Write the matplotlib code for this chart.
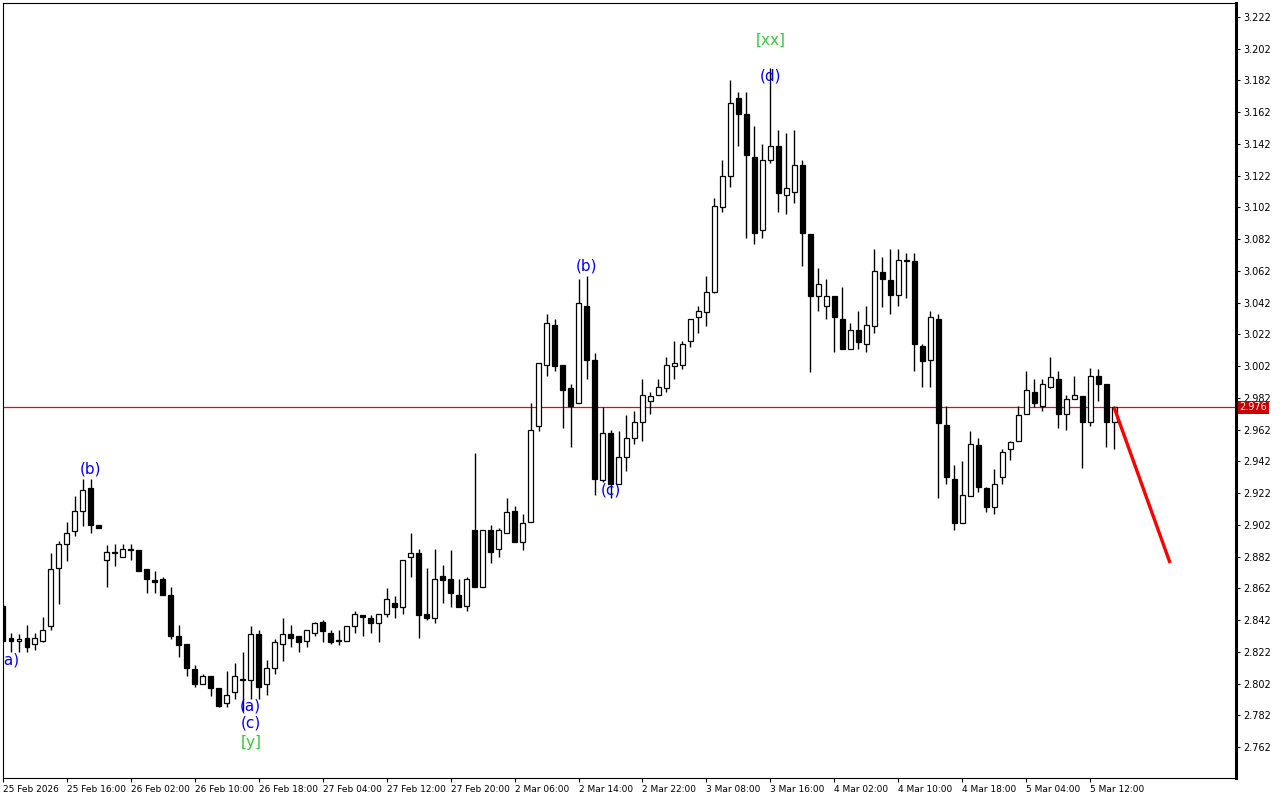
import matplotlib
matplotlib.use("Agg")
import matplotlib.pyplot as plt
import numpy as np

# OHLC, hourly candles
opens = [2.851, 2.831, 2.829, 2.831, 2.827, 2.829, 2.838, 2.875, 2.890, 2.898,
         2.911, 2.925, 2.902, 2.880, 2.884, 2.882, 2.887, 2.886, 2.874, 2.867,
         2.868, 2.858, 2.832, 2.827, 2.811, 2.802, 2.807, 2.799, 2.790, 2.797,
         2.805, 2.804, 2.833, 2.802, 2.812, 2.827, 2.833, 2.832, 2.829, 2.834,
         2.841, 2.834, 2.829, 2.829, 2.838, 2.845, 2.843, 2.840, 2.846, 2.853,
         2.850, 2.882, 2.884, 2.846, 2.843, 2.870, 2.868, 2.858, 2.851, 2.899,
         2.863, 2.899, 2.887, 2.897, 2.911, 2.891, 2.904, 2.964, 3.003, 3.028,
         3.003, 2.988, 2.979, 3.040, 3.006, 2.930, 2.960, 2.928, 2.945, 2.957,
         2.967, 2.980, 2.984, 2.988, 3.002, 3.003, 3.018, 3.033, 3.036, 3.049,
         3.102, 3.122, 3.171, 3.161, 3.134, 3.088, 3.132, 3.141, 3.110, 3.112,
         3.129, 3.085, 3.046, 3.040, 3.046, 3.032, 3.013, 3.025, 3.016, 3.027,
         3.061, 3.056, 3.047, 3.069, 3.068, 3.015, 3.006, 3.032, 2.965, 2.931,
         2.903, 2.920, 2.952, 2.925, 2.913, 2.932, 2.950, 2.955, 2.972, 2.986,
         2.977, 2.989, 2.994, 2.972, 2.981, 2.983, 2.967, 2.996, 2.991, 2.967]
highs = [2.852, 2.834, 2.833, 2.839, 2.834, 2.844, 2.884, 2.892, 2.904, 2.920,
         2.931, 2.931, 2.902, 2.889, 2.890, 2.890, 2.890, 2.886, 2.874, 2.873,
         2.869, 2.863, 2.839, 2.827, 2.814, 2.808, 2.807, 2.799, 2.810, 2.815,
         2.822, 2.838, 2.836, 2.817, 2.830, 2.843, 2.839, 2.832, 2.836, 2.841,
         2.842, 2.836, 2.836, 2.838, 2.848, 2.845, 2.845, 2.846, 2.862, 2.857,
         2.880, 2.897, 2.887, 2.875, 2.887, 2.877, 2.886, 2.868, 2.869, 2.947,
         2.899, 2.902, 2.900, 2.919, 2.914, 2.909, 2.979, 3.004, 3.035, 3.032,
         3.003, 2.991, 3.057, 3.059, 3.010, 2.976, 2.962, 2.961, 2.971, 2.974,
         2.994, 2.986, 2.994, 3.008, 3.018, 3.018, 3.032, 3.040, 3.059, 3.108,
         3.132, 3.182, 3.175, 3.175, 3.153, 3.142, 3.190, 3.151, 3.149, 3.151,
         3.132, 3.085, 3.064, 3.057, 3.046, 3.052, 3.029, 3.037, 3.040, 3.076,
         3.071, 3.076, 3.076, 3.073, 3.073, 3.016, 3.037, 3.035, 2.977, 2.940,
         2.942, 2.961, 2.957, 2.926, 2.937, 2.950, 2.955, 2.977, 2.999, 2.994,
         2.994, 3.008, 2.999, 2.984, 2.996, 2.983, 3.001, 3.000, 2.991, 2.977]
lows = [2.828, 2.822, 2.822, 2.822, 2.823, 2.828, 2.836, 2.852, 2.879, 2.895,
        2.901, 2.897, 2.900, 2.863, 2.876, 2.882, 2.880, 2.873, 2.859, 2.859,
        2.858, 2.830, 2.819, 2.807, 2.800, 2.802, 2.794, 2.787, 2.787, 2.792,
        2.785, 2.792, 2.792, 2.795, 2.808, 2.816, 2.825, 2.822, 2.825, 2.832,
        2.828, 2.827, 2.826, 2.829, 2.834, 2.832, 2.834, 2.828, 2.844, 2.843,
        2.846, 2.869, 2.831, 2.842, 2.840, 2.853, 2.850, 2.850, 2.848, 2.863,
        2.863, 2.878, 2.882, 2.897, 2.891, 2.886, 2.904, 2.961, 2.996, 2.999,
        2.963, 2.951, 2.979, 2.994, 2.921, 2.929, 2.919, 2.928, 2.936, 2.953,
        2.955, 2.972, 2.984, 2.986, 2.994, 3.000, 3.014, 3.023, 3.027, 3.048,
        3.099, 3.115, 3.141, 3.083, 3.079, 3.083, 3.130, 3.099, 3.098, 3.105,
        3.065, 2.998, 3.037, 3.032, 3.011, 3.013, 3.013, 3.013, 3.011, 3.023,
        3.039, 3.035, 3.040, 3.045, 2.999, 2.989, 2.989, 2.919, 2.928, 2.899,
        2.903, 2.920, 2.923, 2.910, 2.909, 2.928, 2.943, 2.955, 2.972, 2.976,
        2.974, 2.988, 2.963, 2.962, 2.981, 2.938, 2.964, 2.980, 2.951, 2.950]
closes = [2.829, 2.829, 2.830, 2.825, 2.831, 2.836, 2.874, 2.890, 2.897, 2.911,
          2.924, 2.902, 2.900, 2.885, 2.885, 2.887, 2.886, 2.873, 2.868, 2.866,
          2.858, 2.832, 2.826, 2.812, 2.802, 2.807, 2.799, 2.788, 2.795, 2.807,
          2.804, 2.833, 2.800, 2.812, 2.828, 2.833, 2.831, 2.828, 2.836, 2.840,
          2.835, 2.828, 2.829, 2.838, 2.846, 2.844, 2.840, 2.846, 2.855, 2.850,
          2.880, 2.884, 2.845, 2.843, 2.868, 2.867, 2.859, 2.850, 2.868, 2.863,
          2.899, 2.885, 2.899, 2.910, 2.891, 2.903, 2.962, 3.004, 3.029, 3.002,
          2.987, 2.977, 3.042, 3.006, 2.931, 2.960, 2.928, 2.945, 2.957, 2.967,
          2.984, 2.983, 2.989, 3.003, 3.004, 3.016, 3.032, 3.037, 3.049, 3.103,
          3.122, 3.168, 3.161, 3.135, 3.086, 3.132, 3.141, 3.111, 3.114, 3.129,
          3.086, 3.046, 3.054, 3.046, 3.033, 3.013, 3.025, 3.017, 3.028, 3.062,
          3.057, 3.047, 3.069, 3.068, 3.016, 3.005, 3.033, 2.966, 2.932, 2.903,
          2.921, 2.953, 2.926, 2.913, 2.928, 2.948, 2.954, 2.971, 2.987, 2.979,
          2.991, 2.995, 2.972, 2.981, 2.984, 2.967, 2.996, 2.991, 2.967, 2.976]

xlabels = ["25 Feb 2026", "25 Feb 16:00", "26 Feb 02:00", "26 Feb 10:00",
           "26 Feb 18:00", "27 Feb 04:00", "27 Feb 12:00", "27 Feb 20:00",
           "2 Mar 06:00", "2 Mar 14:00", "2 Mar 22:00", "3 Mar 08:00",
           "3 Mar 16:00", "4 Mar 02:00", "4 Mar 10:00", "4 Mar 18:00",
           "5 Mar 04:00", "5 Mar 12:00"]
yticks = [2.762 + 0.02 * k for k in range(24)]

# wave labels: text, candle index, price, colour
waves = [("(a)", 0.8, 2.817, "blue"), ("(b)", 11, 2.937, "blue"),
         ("(a)", 31, 2.788, "blue"), ("(c)", 31, 2.777, "blue"),
         ("[y]", 31, 2.765, "limegreen"), ("(b)", 73, 3.065, "blue"),
         ("(c)", 76, 2.924, "blue"), ("(d)", 96, 3.185, "blue"),
         ("[xx]", 96, 3.2075, "limegreen")]

last_price = 2.976
forecast_x = [139, 146]
forecast_y = [2.976, 2.878]

o = np.array(opens); h = np.array(highs); l = np.array(lows); c = np.array(closes)
idx = np.arange(len(o))

fig = plt.figure(figsize=(12.8, 8), dpi=100)
ax = fig.add_axes([3/1280, 22/800, 1233/1280, 775/800])

ax.vlines(idx, l, h, color="black", linewidth=1, zorder=1)
up = c >= o
bottoms = np.minimum(o, c)
heights = np.maximum(np.abs(c - o), 0.0004)
ax.bar(idx, heights, bottom=bottoms, width=0.62,
       color=np.where(up, "white", "black"), edgecolor="black",
       linewidth=0.9, zorder=2)

ax.axhline(last_price, color="red", linewidth=0.9, zorder=0)
ax.plot(forecast_x, forecast_y, color="red", linewidth=2.4, zorder=3,
        solid_capstyle="butt")

for txt, xi, yi, col in waves:
    ax.text(xi, yi, txt, color=col, fontsize=11, ha="center", va="center",
            clip_on=True, zorder=4)

ax.set_xlim(0.1, 154.25)
ax.set_ylim(2.7425, 3.2308)

ax.yaxis.tick_right()
ax.set_yticks(yticks)
ax.set_yticklabels(["%.3f" % v for v in yticks], fontsize=7)
ax.tick_params(axis="y", direction="out", length=3, width=0.8, pad=2)

ax.set_xticks(np.arange(0, 140, 8))
ax.set_xticklabels(xlabels, fontsize=6.5, ha="left")
ax.tick_params(axis="x", direction="out", length=3, width=0.8, pad=2)

for s in ["left", "top", "bottom"]:
    ax.spines[s].set_linewidth(0.8)
ax.spines["right"].set_linewidth(2.2)

ax.text(1.003, last_price, "%.3f" % last_price, transform=ax.get_yaxis_transform(),
        fontsize=7, color="white", ha="left", va="center",
        bbox=dict(boxstyle="square,pad=0.15", facecolor="#cc0000", edgecolor="none"))

plt.savefig("out.png", dpi=100)
